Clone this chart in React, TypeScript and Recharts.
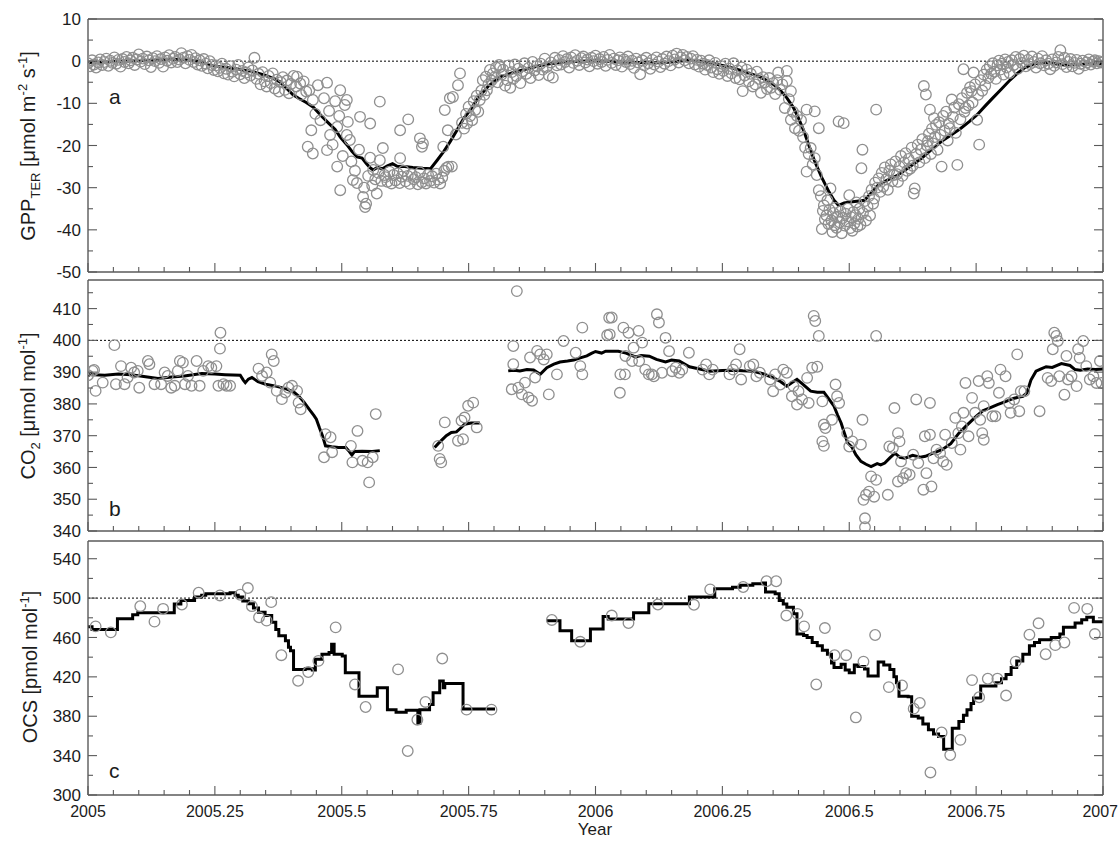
import React from "react";
import { ComposedChart, Scatter, Line, XAxis, YAxis, ReferenceLine } from "recharts";

// Three stacked panels sharing one time axis (decimal year).
const W = 1119;
const H = 842;
const FONT = "'Liberation Sans', Arial, sans-serif";
const AXIS = "#5a5a5a";
const MARK = "#8f8f8f";
const TEXT = "#1c1c1c";

const xMajor = [2005, 2005.25, 2005.5, 2005.75, 2006, 2006.25, 2006.5, 2006.75, 2007];
const xTicks = Array.from({ length: 41 }, (_, i) => Math.round((2005 + i * 0.05) * 100) / 100);

const gppTicks = [-50, -45, -40, -35, -30, -25, -20, -15, -10, -5, 0, 5, 10];
const gppLabels = [-50, -40, -30, -20, -10, 0, 10];
const co2Ticks = [340, 345, 350, 355, 360, 365, 370, 375, 380, 385, 390, 395, 400, 405, 410, 415];
const co2Labels = [340, 350, 360, 370, 380, 390, 400, 410];
const ocsTicks = [300, 320, 340, 360, 380, 400, 420, 440, 460, 480, 500, 520, 540];
const ocsLabels = [300, 340, 380, 420, 460, 500, 540];

// panel a: daily GPP_TER observations and running mean
const gppObs: [number, number][] = [
  [2005.0, -0.5], [2005.004, -1.2], [2005.008, 0.2], [2005.012, -0.8], [2005.016, -1.5], [2005.02, -0.3], [2005.024, 0.4], [2005.028, -0.9],
  [2005.032, -0.2], [2005.036, 0.6], [2005.04, -1.1], [2005.044, 0.1], [2005.048, -0.4], [2005.052, 0.9], [2005.056, -0.6], [2005.06, 0.3],
  [2005.064, -1.3], [2005.068, 0.5], [2005.072, -0.2], [2005.076, 1.0], [2005.08, -0.5], [2005.084, 0.2], [2005.088, 0.8], [2005.092, -0.9],
  [2005.096, 0.4], [2005.1, 1.6], [2005.104, -0.1], [2005.108, 0.6], [2005.112, -0.7], [2005.116, 1.1], [2005.12, 0.2], [2005.124, -1.4],
  [2005.128, 0.7], [2005.132, 0.0], [2005.136, 1.2], [2005.14, -0.4], [2005.144, 0.5], [2005.148, -1.3], [2005.152, 0.9], [2005.156, 0.1],
  [2005.16, 1.4], [2005.164, -0.3], [2005.168, 0.6], [2005.172, 1.0], [2005.176, -0.2], [2005.18, 0.4], [2005.184, 1.9], [2005.188, 0.8],
  [2005.192, -0.5], [2005.196, 1.2], [2005.2, 0.3], [2005.204, 1.5], [2005.208, -0.2], [2005.212, 0.7], [2005.216, -0.8], [2005.22, 0.2],
  [2005.224, -1.1], [2005.228, 0.5], [2005.232, -0.6], [2005.236, -1.7], [2005.24, 0.0], [2005.244, -0.9], [2005.248, -2.1],
  [2005.252, -1.0], [2005.256, -2.4], [2005.26, -1.6], [2005.264, -0.6], [2005.268, -2.9], [2005.272, -1.8], [2005.276, -3.2], [2005.28, -1.2],
  [2005.284, -2.5], [2005.288, -3.6], [2005.292, -2.0], [2005.296, -0.9], [2005.3, -3.1], [2005.304, -2.3], [2005.308, -4.0], [2005.312, -2.7],
  [2005.316, -1.5], [2005.32, -3.4], [2005.324, -2.2], [2005.328, 0.8], [2005.332, -4.2], [2005.336, -3.0], [2005.34, -5.5], [2005.344, -2.6],
  [2005.348, -4.8], [2005.352, -6.0], [2005.356, -3.5], [2005.36, -5.2], [2005.364, -2.9], [2005.368, -6.5], [2005.372, -4.4], [2005.376, -7.2],
  [2005.38, -5.0], [2005.384, -3.8], [2005.388, -6.8], [2005.392, -4.6], [2005.396, -7.6], [2005.4, -5.4],
  [2005.405, -3.5], [2005.41, -6.0], [2005.412, -3.7], [2005.418, -5.3], [2005.42, -8.0], [2005.425, -4.8], [2005.43, -7.2], [2005.433, -20.3],
  [2005.436, -6.9], [2005.44, -16.4], [2005.443, -9.2], [2005.443, -21.9], [2005.448, -12.5], [2005.453, -5.7], [2005.458, -14.0], [2005.465, -8.8],
  [2005.471, -5.1], [2005.471, -21.1], [2005.475, -11.8], [2005.477, -17.5], [2005.482, -19.8], [2005.487, -9.5], [2005.491, -15.6], [2005.491, -25.0],
  [2005.495, -13.0], [2005.497, -6.9], [2005.497, -30.6], [2005.502, -22.5], [2005.506, -10.4], [2005.51, -9.2], [2005.51, -17.5], [2005.512, -14.4],
  [2005.516, -18.7], [2005.519, -23.8], [2005.522, -28.2], [2005.526, -26.0], [2005.53, -28.9], [2005.534, -21.0], [2005.536, -13.2], [2005.542, -32.2],
  [2005.544, -30.0], [2005.546, -34.6], [2005.548, -33.8], [2005.552, -27.2], [2005.556, -14.8], [2005.556, -22.9], [2005.56, -29.5], [2005.562, -25.8],
  [2005.566, -28.0], [2005.569, -31.4], [2005.572, -26.5], [2005.575, -9.6], [2005.575, -23.5], [2005.578, -28.4], [2005.581, -20.6], [2005.584, -27.0],
  [2005.586, -27.5], [2005.59, -28.6], [2005.594, -26.2], [2005.598, -29.0], [2005.602, -27.0], [2005.606, -28.3], [2005.61, -26.6], [2005.614, -28.9],
  [2005.615, -16.4], [2005.615, -23.0], [2005.618, -27.4], [2005.622, -26.0], [2005.626, -28.5], [2005.63, -27.2], [2005.631, -13.8], [2005.634, -29.1],
  [2005.638, -26.8], [2005.642, -28.0], [2005.646, -27.5], [2005.65, -29.2], [2005.654, -18.3], [2005.654, -26.4], [2005.658, -20.3], [2005.658, -28.7],
  [2005.66, -19.5], [2005.662, -27.8], [2005.666, -29.0], [2005.67, -26.9], [2005.674, -28.4], [2005.678, -27.3], [2005.682, -28.8], [2005.686, -26.7],
  [2005.69, -28.1], [2005.694, -29.0], [2005.698, -27.6], [2005.7, -20.3], [2005.702, -26.0], [2005.703, -11.6], [2005.706, -25.3], [2005.709, -16.4],
  [2005.71, -25.0], [2005.713, -8.8], [2005.717, -25.0], [2005.719, -8.5],
  [2005.725, -17.4], [2005.729, -5.7], [2005.733, -2.9], [2005.737, -14.6], [2005.741, -16.0], [2005.745, -12.5], [2005.747, -14.8], [2005.75, -10.8],
  [2005.753, -13.0], [2005.757, -14.0], [2005.76, -9.5], [2005.763, -11.6], [2005.766, -8.2], [2005.769, -12.0], [2005.772, -9.2], [2005.775, -7.0],
  [2005.778, -4.5], [2005.781, -8.0], [2005.784, -3.7], [2005.786, -6.9], [2005.789, -5.5], [2005.792, -2.1], [2005.795, -4.6], [2005.798, -2.9],
  [2005.801, -3.8], [2005.804, -1.5], [2005.807, -5.0], [2005.81, -0.9], [2005.812, -1.4], [2005.815, -3.2], [2005.818, -2.0], [2005.822, -5.8],
  [2005.826, -4.5], [2005.829, -1.0], [2005.832, -6.3], [2005.835, -2.6], [2005.838, -4.2], [2005.841, -0.8], [2005.844, -3.5], [2005.848, -1.8],
  [2005.852, -5.2], [2005.856, -2.4], [2005.86, -0.5], [2005.864, -3.0], [2005.868, -1.6], [2005.872, -4.0], [2005.876, -0.2], [2005.88, -2.2],
  [2005.884, -1.2], [2005.888, -3.3], [2005.892, -0.6], [2005.896, -2.0], [2005.9, 0.6], [2005.904, -1.4], [2005.908, -3.4], [2005.912, -0.3],
  [2005.916, -3.9], [2005.92, 0.8], [2005.924, -1.0],
  [2005.928, 0.3], [2005.932, -0.8], [2005.936, 1.2], [2005.94, -0.2], [2005.944, 0.5], [2005.948, -1.5], [2005.952, 0.9], [2005.956, -0.4],
  [2005.96, 1.4], [2005.964, 0.1], [2005.968, -0.9], [2005.972, 0.7], [2005.976, 1.1], [2005.98, -0.3], [2005.984, 0.4], [2005.988, -1.2],
  [2005.992, 0.8], [2005.996, 0.0], [2006.0, 1.3], [2006.004, -0.6], [2006.008, 0.5], [2006.012, -0.2], [2006.016, 1.0], [2006.02, -1.1],
  [2006.024, 0.3], [2006.028, 1.5], [2006.032, -0.4], [2006.036, 0.6], [2006.04, -0.9], [2006.044, 0.2], [2006.048, 0.9], [2006.052, -1.3],
  [2006.056, 0.4], [2006.06, -0.2], [2006.064, 1.1], [2006.068, -0.7], [2006.072, 0.1], [2006.076, -1.6], [2006.08, 0.6], [2006.084, -0.3],
  [2006.088, -3.1], [2006.092, 0.2], [2006.096, -1.0], [2006.1, 0.8], [2006.104, -0.5], [2006.108, -1.8], [2006.112, 0.3], [2006.116, -0.8],
  [2006.12, 0.9], [2006.124, -0.1], [2006.128, -1.4], [2006.132, 0.5], [2006.136, -0.6], [2006.14, 1.1], [2006.144, 0.0], [2006.148, -1.0],
  [2006.152, 1.3], [2006.156, 0.4], [2006.16, 1.8], [2006.164, -0.3], [2006.168, 0.9], [2006.172, 1.5], [2006.176, 0.2], [2006.18, 1.0],
  [2006.184, -0.5], [2006.188, 0.6], [2006.192, 1.2], [2006.196, -0.8], [2006.2, 0.3], [2006.204, -1.3], [2006.208, 0.1], [2006.212, -0.6],
  [2006.216, -2.0], [2006.22, -0.9], [2006.224, 0.2], [2006.228, -1.5], [2006.232, -2.6], [2006.236, -0.4], [2006.24, -1.9],
  [2006.244, -3.0], [2006.248, -1.2], [2006.252, -2.3], [2006.256, -0.6], [2006.26, -3.5], [2006.264, -1.8], [2006.268, -2.9], [2006.272, -0.5],
  [2006.276, -4.0], [2006.28, -2.2], [2006.284, -4.3], [2006.288, -1.5], [2006.29, -7.1], [2006.294, -3.4], [2006.298, -2.0], [2006.302, -4.8],
  [2006.306, -3.0], [2006.31, -6.0], [2006.315, -5.5], [2006.318, -2.5], [2006.322, -4.2], [2006.326, -7.5], [2006.33, -3.8], [2006.334, -5.0],
  [2006.338, -6.6], [2006.342, -4.0], [2006.346, -6.3], [2006.35, -5.2], [2006.354, -7.8], [2006.358, -4.5], [2006.36, -2.7], [2006.364, -6.8],
  [2006.368, -5.5], [2006.373, -11.1], [2006.377, -2.3], [2006.377, -4.7], [2006.381, -9.0], [2006.385, -7.1], [2006.385, -13.9], [2006.389, -12.0],
  [2006.393, -15.9], [2006.397, -13.0], [2006.401, -16.5], [2006.405, -14.0], [2006.409, -18.0], [2006.413, -20.5], [2006.416, -11.5], [2006.416, -26.2],
  [2006.42, -22.0], [2006.424, -20.6], [2006.428, -24.5], [2006.432, -11.9], [2006.432, -23.0], [2006.436, -27.0], [2006.44, -15.9], [2006.44, -30.6],
  [2006.444, -32.0], [2006.446, -39.8], [2006.448, -35.5], [2006.45, -34.2], [2006.452, -37.5], [2006.455, -36.6], [2006.457, -33.0], [2006.459, -38.6],
  [2006.461, -35.2], [2006.463, -30.2], [2006.465, -37.8], [2006.467, -40.5], [2006.469, -36.0], [2006.471, -38.9], [2006.473, -34.8], [2006.475, -39.5],
  [2006.477, -36.9], [2006.479, -14.3], [2006.481, -38.2], [2006.483, -35.6], [2006.485, -40.8], [2006.487, -37.2], [2006.489, -14.7], [2006.491, -39.0],
  [2006.493, -36.2], [2006.495, -38.0], [2006.497, -35.0], [2006.5, -31.8], [2006.502, -39.6], [2006.504, -37.0], [2006.506, -40.2], [2006.508, -35.8],
  [2006.51, -38.5], [2006.512, -36.5], [2006.514, -33.5], [2006.516, -39.2], [2006.518, -37.4], [2006.52, -35.0], [2006.522, -38.8], [2006.524, -25.4],
  [2006.526, -21.0], [2006.527, -36.0], [2006.53, -33.2], [2006.533, -37.8], [2006.536, -34.5], [2006.539, -32.0], [2006.541, -36.6], [2006.544, -30.5],
  [2006.547, -33.8], [2006.549, -32.6], [2006.551, -28.8], [2006.553, -11.5], [2006.555, -30.0],
  [2006.558, -27.8], [2006.561, -31.0], [2006.564, -26.5], [2006.567, -29.8], [2006.57, -25.2], [2006.573, -28.0], [2006.576, -30.5], [2006.579, -26.0],
  [2006.582, -24.5], [2006.585, -28.5], [2006.588, -27.0], [2006.591, -23.8], [2006.594, -26.8], [2006.596, -28.6], [2006.599, -25.0], [2006.602, -22.5],
  [2006.605, -27.2], [2006.608, -24.0], [2006.611, -21.8], [2006.614, -26.0], [2006.617, -23.2], [2006.62, -25.5], [2006.623, -20.5], [2006.625, -24.8],
  [2006.627, -31.4], [2006.629, -30.2], [2006.632, -22.0], [2006.635, -19.8], [2006.638, -24.0], [2006.641, -21.0], [2006.644, -18.5], [2006.647, -5.9],
  [2006.649, -23.0], [2006.651, -7.9], [2006.653, -20.0], [2006.655, -19.0], [2006.657, -17.2], [2006.659, -11.5], [2006.661, -22.0], [2006.663, -16.0],
  [2006.665, -19.5], [2006.667, -13.5], [2006.669, -18.0], [2006.671, -15.1], [2006.674, -21.0], [2006.677, -14.5], [2006.68, -17.5], [2006.682, -25.0],
  [2006.685, -13.0], [2006.688, -16.5], [2006.691, -12.0], [2006.694, -18.8], [2006.696, -14.8], [2006.698, -15.9], [2006.702, -9.1], [2006.704, -13.2],
  [2006.707, -11.0], [2006.71, -17.0], [2006.713, -24.6], [2006.716, -10.2], [2006.719, -13.8], [2006.722, -8.8], [2006.725, -1.9], [2006.727, -12.0],
  [2006.729, -11.1], [2006.732, -7.5], [2006.735, -10.5], [2006.738, -6.2], [2006.741, -7.1], [2006.743, -9.8], [2006.745, -2.7], [2006.748, -5.5],
  [2006.752, -13.9], [2006.754, -8.0], [2006.756, -19.8], [2006.759, -4.5], [2006.762, -7.0], [2006.765, -3.2], [2006.768, -5.8], [2006.771, -2.0],
  [2006.774, -4.0], [2006.777, -1.2], [2006.78, -3.0], [2006.783, -0.5], [2006.786, -2.5], [2006.789, -4.2], [2006.792, -1.0], [2006.795, 0.1],
  [2006.798, -2.0], [2006.801, -0.6], [2006.804, -3.2], [2006.807, 0.4], [2006.81, -1.5], [2006.813, -0.2],
  [2006.816, -2.8], [2006.82, 0.2], [2006.824, -0.9], [2006.828, 1.0], [2006.832, -1.8], [2006.836, 0.5], [2006.84, -0.4], [2006.844, 1.3],
  [2006.848, -1.2], [2006.852, 0.3], [2006.856, -0.7], [2006.86, 1.1], [2006.864, -0.2], [2006.868, -1.5], [2006.872, 0.6], [2006.876, -0.5],
  [2006.88, 1.2], [2006.884, -1.0], [2006.888, 0.2], [2006.892, -0.6], [2006.896, -1.9], [2006.9, 0.4], [2006.904, -1.1], [2006.908, -0.3],
  [2006.912, 1.0], [2006.916, 2.6], [2006.92, -0.7], [2006.924, 0.8], [2006.928, -1.4], [2006.932, -0.2], [2006.936, 0.5], [2006.94, -1.2],
  [2006.944, -0.4], [2006.948, 0.3], [2006.952, -1.8], [2006.956, -0.6], [2006.96, 0.1], [2006.964, -1.0], [2006.968, -0.3], [2006.972, 0.4],
  [2006.976, -0.8], [2006.98, -0.1], [2006.984, 0.2], [2006.988, -0.5], [2006.992, 0.0], [2006.996, -0.3], [2007.0, -0.2],
];

const gppMean: [number, number][] = [
  [2005.0, -0.3], [2005.03, -0.2], [2005.06, 0.0], [2005.1, 0.1], [2005.14, 0.3], [2005.17, 0.4], [2005.195, 0.4], [2005.215, 0.0],
  [2005.23, -0.5], [2005.245, -1.0], [2005.26, -1.3], [2005.28, -1.6], [2005.3, -2.0], [2005.325, -2.5], [2005.35, -3.4], [2005.365, -4.1],
  [2005.378, -4.9], [2005.39, -6.3], [2005.404, -8.0], [2005.415, -8.8], [2005.43, -9.8], [2005.444, -10.9], [2005.46, -13.0], [2005.475, -14.8],
  [2005.487, -16.2], [2005.497, -18.0], [2005.51, -19.8], [2005.52, -21.4], [2005.53, -22.7], [2005.54, -23.0], [2005.548, -24.2], [2005.556, -25.3],
  [2005.562, -25.8], [2005.57, -25.2], [2005.58, -25.5], [2005.59, -24.8], [2005.6, -24.3], [2005.61, -25.0], [2005.62, -24.9], [2005.64, -25.2],
  [2005.66, -25.4], [2005.675, -25.5], [2005.688, -23.5], [2005.7, -21.6], [2005.713, -19.2], [2005.727, -16.4], [2005.74, -13.6], [2005.753, -11.6],
  [2005.77, -8.5], [2005.79, -5.8], [2005.812, -3.8], [2005.835, -2.8], [2005.862, -1.9], [2005.885, -1.2], [2005.91, -0.6], [2005.94, -0.2],
  [2005.97, 0.0], [2006.0, 0.1], [2006.05, -0.2], [2006.09, -0.3], [2006.127, -0.4], [2006.15, -0.2], [2006.174, 0.2], [2006.19, 0.2],
  [2006.205, 0.0], [2006.23, -0.5], [2006.252, -1.1], [2006.275, -1.8], [2006.3, -2.7], [2006.325, -3.8], [2006.346, -5.1], [2006.362, -6.6],
  [2006.377, -8.7], [2006.39, -11.0], [2006.4, -13.5], [2006.41, -16.4], [2006.422, -20.5], [2006.432, -23.8], [2006.446, -27.6], [2006.46, -31.0],
  [2006.47, -33.0], [2006.479, -34.2], [2006.49, -33.6], [2006.502, -33.4], [2006.515, -33.2], [2006.53, -33.0], [2006.545, -31.0], [2006.557, -29.4],
  [2006.575, -28.2], [2006.596, -27.0], [2006.62, -25.0], [2006.643, -23.0], [2006.662, -21.0], [2006.682, -19.0], [2006.7, -17.6], [2006.72, -15.9],
  [2006.737, -14.3], [2006.752, -12.7], [2006.768, -10.6], [2006.783, -8.7], [2006.8, -6.6], [2006.815, -4.7], [2006.83, -3.0], [2006.846, -1.5],
  [2006.865, -0.6], [2006.885, -0.3], [2006.905, -0.6], [2006.924, -0.9], [2006.95, -0.8], [2006.975, -0.6], [2007.0, -0.6],
];

// panel b: CO2 mixing ratio
const co2Obs: [number, number][] = [
  [2005.0, 389.0], [2005.009, 390.4], [2005.012, 390.7], [2005.015, 384.1], [2005.029, 386.7], [2005.052, 398.5], [2005.055, 386.2], [2005.065, 391.9],
  [2005.072, 386.2], [2005.078, 388.3], [2005.085, 391.4], [2005.091, 389.9], [2005.098, 390.4], [2005.101, 385.1], [2005.118, 393.5], [2005.121, 392.5],
  [2005.131, 386.2], [2005.144, 386.2], [2005.151, 389.9], [2005.157, 388.8], [2005.164, 385.1], [2005.171, 385.7], [2005.177, 390.4], [2005.181, 393.5],
  [2005.187, 393.0], [2005.191, 386.2], [2005.197, 388.8], [2005.204, 385.7], [2005.214, 393.5], [2005.22, 385.7], [2005.227, 390.4], [2005.237, 391.9],
  [2005.243, 391.4], [2005.253, 391.9], [2005.257, 385.7], [2005.26, 397.4], [2005.261, 402.4], [2005.267, 386.2], [2005.273, 385.7], [2005.28, 385.7],
  [2005.336, 391.1], [2005.343, 388.8], [2005.352, 389.9], [2005.359, 386.7], [2005.362, 395.6], [2005.366, 393.5], [2005.372, 384.1], [2005.382, 381.5],
  [2005.389, 383.6], [2005.395, 385.1], [2005.402, 385.7], [2005.412, 384.1], [2005.415, 380.4], [2005.419, 378.3], [2005.465, 363.2], [2005.468, 370.5],
  [2005.478, 369.5], [2005.481, 364.8], [2005.518, 366.8], [2005.521, 361.6], [2005.531, 371.5], [2005.541, 362.1], [2005.551, 361.6], [2005.554, 355.3],
  [2005.561, 363.2], [2005.567, 376.8],
  [2005.69, 366.8], [2005.693, 362.7], [2005.696, 361.6], [2005.703, 374.2], [2005.729, 368.4], [2005.736, 374.7], [2005.739, 368.9], [2005.742, 375.7],
  [2005.749, 379.4], [2005.759, 380.4], [2005.766, 372.6],
  [2005.835, 384.6], [2005.838, 398.2], [2005.838, 392.5], [2005.845, 415.5], [2005.848, 385.1], [2005.855, 383.0], [2005.861, 386.7], [2005.868, 382.0],
  [2005.871, 394.6], [2005.875, 381.0], [2005.881, 388.3], [2005.885, 396.7], [2005.891, 395.6], [2005.898, 394.0], [2005.904, 395.6], [2005.908, 383.0],
  [2005.924, 389.3], [2005.937, 399.8], [2005.961, 396.1], [2005.97, 391.9], [2005.974, 389.3], [2005.974, 404.0], [2006.023, 401.6], [2006.027, 407.1],
  [2006.028, 401.9], [2006.032, 407.2], [2006.048, 383.5], [2006.049, 389.3], [2006.055, 404.0], [2006.058, 389.3], [2006.059, 395.1], [2006.065, 402.4],
  [2006.072, 393.5], [2006.075, 397.7], [2006.085, 403.0], [2006.086, 393.5], [2006.092, 399.3], [2006.098, 390.8], [2006.105, 389.3], [2006.111, 389.3],
  [2006.115, 388.7], [2006.121, 408.2], [2006.125, 405.6], [2006.131, 389.8], [2006.138, 400.8], [2006.145, 396.6], [2006.151, 390.3], [2006.158, 391.4],
  [2006.165, 389.8], [2006.171, 390.8], [2006.184, 396.1], [2006.211, 390.8], [2006.218, 392.4], [2006.224, 389.3], [2006.231, 390.8], [2006.264, 389.3],
  [2006.271, 390.8], [2006.277, 392.4], [2006.284, 397.2], [2006.287, 387.7], [2006.304, 391.9], [2006.311, 392.4], [2006.317, 388.7], [2006.324, 389.8],
  [2006.344, 387.7], [2006.35, 384.0], [2006.354, 389.3], [2006.364, 386.1], [2006.37, 390.8], [2006.377, 389.8], [2006.387, 382.4], [2006.39, 385.6],
  [2006.397, 379.8], [2006.4, 384.0], [2006.407, 381.4], [2006.417, 388.2], [2006.42, 380.3], [2006.427, 391.4], [2006.43, 407.7], [2006.433, 406.1],
  [2006.437, 391.7], [2006.44, 401.4], [2006.447, 380.8], [2006.45, 373.5], [2006.453, 372.4], [2006.447, 368.2], [2006.45, 366.8], [2006.466, 375.0],
  [2006.473, 386.1], [2006.476, 382.4], [2006.48, 380.3], [2006.496, 370.8], [2006.5, 366.6], [2006.506, 368.2], [2006.523, 367.2], [2006.526, 375.0],
  [2006.528, 349.8], [2006.531, 344.0], [2006.531, 341.2], [2006.533, 351.4], [2006.539, 352.4], [2006.543, 357.2], [2006.549, 350.8], [2006.553, 356.1],
  [2006.553, 401.4], [2006.576, 351.4], [2006.579, 366.6], [2006.586, 366.1], [2006.589, 378.7], [2006.596, 370.8], [2006.599, 368.2], [2006.596, 355.6],
  [2006.602, 361.9], [2006.606, 356.6], [2006.612, 358.2], [2006.619, 357.7], [2006.626, 364.0], [2006.632, 381.4], [2006.636, 361.4], [2006.646, 353.0],
  [2006.649, 369.8], [2006.652, 358.2], [2006.659, 370.3], [2006.659, 380.3], [2006.662, 354.0], [2006.666, 362.9], [2006.672, 365.6], [2006.679, 364.5],
  [2006.685, 361.9], [2006.689, 370.3], [2006.692, 360.8], [2006.702, 367.7], [2006.709, 375.6], [2006.715, 370.8], [2006.719, 365.6], [2006.722, 372.9],
  [2006.725, 377.2], [2006.729, 386.6], [2006.735, 369.8], [2006.742, 381.9], [2006.748, 377.2], [2006.755, 387.2], [2006.758, 375.0], [2006.762, 370.8],
  [2006.765, 368.7], [2006.765, 379.3], [2006.772, 388.7], [2006.775, 386.6], [2006.782, 376.1], [2006.788, 376.1], [2006.795, 383.5], [2006.798, 390.8],
  [2006.808, 388.7], [2006.815, 380.3], [2006.818, 377.2], [2006.825, 381.4], [2006.831, 395.6], [2006.835, 377.7], [2006.838, 384.0], [2006.845, 384.0],
  [2006.875, 377.7], [2006.891, 388.2], [2006.898, 387.2], [2006.901, 397.2], [2006.904, 402.4], [2006.908, 401.4], [2006.911, 399.8], [2006.914, 388.7],
  [2006.924, 382.9], [2006.928, 395.1], [2006.931, 387.7], [2006.938, 388.7], [2006.948, 385.6], [2006.951, 397.2], [2006.954, 394.5], [2006.961, 399.8],
  [2006.967, 391.9], [2006.974, 387.7], [2006.981, 388.7], [2006.987, 386.6], [2006.994, 393.5], [2006.997, 386.6],
];

const co2MeanA: [number, number][] = [
  [2005.0, 388.8], [2005.006, 389.6], [2005.012, 389.2], [2005.033, 389.0], [2005.06, 389.4], [2005.085, 389.2], [2005.11, 388.6], [2005.138, 388.0],
  [2005.165, 388.5], [2005.19, 388.8], [2005.224, 389.6], [2005.25, 389.4], [2005.27, 389.2], [2005.3, 389.0], [2005.306, 387.5], [2005.31, 386.7],
  [2005.316, 387.8], [2005.323, 388.3], [2005.335, 387.0], [2005.35, 386.2], [2005.37, 385.6], [2005.389, 384.8], [2005.405, 383.8], [2005.415, 382.5],
  [2005.426, 380.5], [2005.436, 378.3], [2005.445, 376.4], [2005.45, 375.2], [2005.456, 372.5], [2005.462, 370.0], [2005.468, 366.8], [2005.48, 366.5],
  [2005.494, 366.3], [2005.508, 366.3], [2005.515, 365.0], [2005.52, 363.9], [2005.525, 365.0], [2005.54, 365.1], [2005.56, 365.0], [2005.575, 365.3],
];
const co2MeanB: [number, number][] = [
  [2005.683, 366.3], [2005.69, 367.5], [2005.706, 370.0], [2005.716, 371.0], [2005.726, 371.2], [2005.735, 372.5], [2005.742, 373.6], [2005.755, 374.0],
  [2005.772, 374.0],
];
const co2MeanC: [number, number][] = [
  [2005.828, 390.4], [2005.84, 390.6], [2005.851, 390.4], [2005.865, 390.8], [2005.878, 390.7], [2005.891, 389.3], [2005.904, 391.4], [2005.918, 392.5],
  [2005.93, 393.2], [2005.945, 393.5], [2005.957, 393.8], [2005.97, 394.5], [2005.983, 395.1], [2005.992, 395.9], [2006.0, 396.5], [2006.012, 396.0],
  [2006.02, 396.6], [2006.045, 396.6], [2006.06, 396.0], [2006.079, 394.8], [2006.09, 395.2], [2006.106, 395.0], [2006.12, 394.0], [2006.138, 393.2],
  [2006.15, 393.8], [2006.165, 393.5], [2006.185, 391.7], [2006.205, 391.0], [2006.225, 390.3], [2006.25, 390.5], [2006.271, 390.6], [2006.29, 390.4],
  [2006.311, 390.3], [2006.33, 389.5], [2006.351, 388.2], [2006.365, 387.0], [2006.377, 385.6], [2006.388, 386.8], [2006.397, 387.7], [2006.41, 386.0],
  [2006.424, 384.0], [2006.437, 383.7], [2006.45, 383.7], [2006.46, 381.5], [2006.47, 379.3], [2006.477, 376.5], [2006.484, 374.0], [2006.49, 371.0],
  [2006.497, 367.7], [2006.505, 366.5], [2006.513, 364.0], [2006.523, 361.9], [2006.533, 361.0], [2006.543, 360.3], [2006.555, 361.2], [2006.562, 360.8],
  [2006.57, 361.4], [2006.58, 363.0], [2006.59, 364.5], [2006.6, 363.2], [2006.61, 362.9], [2006.625, 363.8], [2006.64, 363.2], [2006.65, 363.5],
  [2006.665, 364.5], [2006.683, 365.6], [2006.7, 367.5], [2006.716, 370.8], [2006.733, 373.5], [2006.75, 376.1], [2006.763, 377.8], [2006.776, 378.7],
  [2006.792, 379.8], [2006.809, 380.8], [2006.825, 381.8], [2006.842, 382.4], [2006.85, 383.5], [2006.858, 387.5], [2006.868, 390.3], [2006.878, 391.0],
  [2006.888, 391.7], [2006.9, 391.5], [2006.918, 392.7], [2006.935, 392.1], [2006.945, 390.8], [2006.955, 390.6], [2006.97, 391.0], [2006.985, 390.8],
  [2007.0, 391.0],
];

// panel c: OCS mixing ratio (flask samples) and running median
const ocsObs: [number, number][] = [
  [2005.015, 471.3], [2005.045, 465.2], [2005.103, 491.8], [2005.131, 476.1], [2005.148, 489.1], [2005.185, 493.5], [2005.218, 505.5], [2005.26, 502.7],
  [2005.3, 503.4], [2005.315, 510.2], [2005.323, 491.8], [2005.337, 480.5], [2005.352, 477.1], [2005.361, 495.9], [2005.381, 442.0], [2005.414, 416.0],
  [2005.434, 424.9], [2005.454, 436.2], [2005.488, 470.3], [2005.526, 412.3], [2005.547, 389.4], [2005.611, 427.6], [2005.63, 344.7], [2005.649, 376.5],
  [2005.665, 394.5], [2005.698, 438.6], [2005.746, 386.7], [2005.795, 386.7],
  [2005.914, 477.8], [2005.97, 455.6], [2006.032, 482.3], [2006.065, 474.7], [2006.123, 493.5], [2006.194, 493.2], [2006.226, 508.9], [2006.291, 511.3],
  [2006.337, 517.1], [2006.356, 517.1], [2006.376, 482.3], [2006.398, 484.0], [2006.411, 471.3], [2006.435, 412.3], [2006.452, 469.6], [2006.471, 442.0],
  [2006.494, 442.0], [2006.513, 378.8], [2006.528, 435.5], [2006.551, 462.5], [2006.578, 409.6], [2006.604, 411.3], [2006.627, 387.7], [2006.639, 393.5],
  [2006.66, 322.9], [2006.682, 363.5], [2006.699, 340.6], [2006.719, 356.0], [2006.742, 416.7], [2006.756, 399.3], [2006.773, 418.1], [2006.792, 418.1],
  [2006.809, 401.0], [2006.828, 435.5], [2006.855, 462.8], [2006.873, 474.4], [2006.887, 443.0], [2006.906, 452.2], [2006.924, 454.9], [2006.943, 490.1],
  [2006.969, 489.1], [2006.984, 463.5],
];

const ocsMeanA: [number, number][] = [
  [2005.0, 471], [2005.008, 468], [2005.058, 479], [2005.088, 483], [2005.098, 485], [2005.17, 494], [2005.183, 497.6], [2005.21, 501],
  [2005.224, 503], [2005.232, 504.4], [2005.28, 505.5], [2005.29, 503], [2005.296, 501], [2005.305, 497], [2005.316, 494.2], [2005.326, 490],
  [2005.336, 485.7], [2005.349, 482.3], [2005.362, 475.4], [2005.37, 468], [2005.376, 461.8], [2005.389, 456.7], [2005.395, 450], [2005.399, 446.4],
  [2005.405, 427.6], [2005.428, 428.3], [2005.442, 427], [2005.448, 437.9], [2005.461, 443], [2005.475, 444.7], [2005.48, 453.2], [2005.485, 443],
  [2005.501, 441.3], [2005.507, 424.2], [2005.534, 400.3], [2005.57, 408.9], [2005.59, 386.7], [2005.607, 384], [2005.627, 386], [2005.65, 373],
  [2005.654, 386.7], [2005.673, 391.8], [2005.68, 403.8], [2005.693, 415.7], [2005.7, 408.9], [2005.703, 413.3], [2005.739, 387.4], [2005.802, 387.4],
];
const ocsMeanB: [number, number][] = [
  [2005.904, 477.1], [2005.93, 466.9], [2005.953, 456.7], [2005.99, 468.6], [2006.015, 481.2], [2006.025, 478.8], [2006.075, 485], [2006.105, 494.2],
  [2006.185, 501], [2006.235, 509.6], [2006.27, 511], [2006.285, 513], [2006.31, 514.5], [2006.331, 515.4], [2006.335, 506.1], [2006.354, 504.4],
  [2006.362, 497.6], [2006.37, 494], [2006.377, 490.8], [2006.39, 484], [2006.397, 463.5], [2006.41, 462], [2006.417, 460], [2006.427, 455],
  [2006.437, 451.5], [2006.447, 447], [2006.457, 443], [2006.465, 434], [2006.47, 429.4], [2006.484, 432.8], [2006.492, 427], [2006.5, 424.2],
  [2006.51, 432], [2006.517, 430.4], [2006.53, 428], [2006.537, 420.8], [2006.557, 435.2], [2006.568, 432], [2006.58, 427.6], [2006.588, 420],
  [2006.593, 414], [2006.598, 400.3], [2006.616, 399.7], [2006.623, 379.9], [2006.636, 378.2], [2006.645, 372], [2006.656, 366.2], [2006.666, 362],
  [2006.676, 359.4], [2006.686, 346.4], [2006.703, 367.9], [2006.716, 374.7], [2006.725, 381], [2006.732, 386.7], [2006.74, 393], [2006.745, 398.6],
  [2006.759, 410.6], [2006.789, 414], [2006.8, 418], [2006.809, 422.5], [2006.819, 429.4], [2006.83, 436], [2006.842, 443], [2006.855, 451.5],
  [2006.865, 455], [2006.875, 457.7], [2006.898, 460], [2006.915, 463.5], [2006.922, 470.3], [2006.945, 474.7], [2006.958, 478], [2006.968, 480.5],
  [2006.981, 476.1], [2007.0, 476.1],
];

const pts = (a: [number, number][]) => a.map(([x, y]) => ({ x, y }));
const near = (list: number[], v: number) => list.some((m) => Math.abs(m - v) < 1e-6);

const axisLine = { stroke: AXIS, strokeWidth: 1.4 };

const ring = (p: any) => (
  <circle cx={p.cx} cy={p.cy} r={5.3} fill="none" stroke={MARK} strokeWidth={1.3} />
);

function makeXTick(side: "top" | "bottom", labels: boolean) {
  return (p: any) => {
    const v = p.payload.value;
    const major = near(xMajor, v);
    const len = major ? 9 : 5;
    const dir = side === "bottom" ? -1 : 1;
    // the last label would run off the right edge, so it hangs left of its tick
    const last = v === 2007;
    return (
      <g>
        <line x1={p.x} x2={p.x} y1={p.y} y2={p.y + dir * len} stroke={AXIS} strokeWidth={1.1} />
        {labels && major && (
          <text
            x={last ? p.x + 15 : p.x} y={p.y + 22} textAnchor={last ? "end" : "middle"}
            fontSize={16} fill={TEXT} fontFamily={FONT}
          >
            {v}
          </text>
        )}
      </g>
    );
  };
}

function makeYTick(side: "left" | "right", labelled: number[]) {
  return (p: any) => {
    const v = p.payload.value;
    const major = near(labelled, v);
    const len = major ? 9 : 5;
    const dir = side === "left" ? 1 : -1;
    return (
      <g>
        <line x1={p.x} x2={p.x + dir * len} y1={p.y} y2={p.y} stroke={AXIS} strokeWidth={1.1} />
        {side === "left" && major && (
          <text x={p.x - 7} y={p.y} dy="0.36em" textAnchor="end" fontSize={17} fill={TEXT} fontFamily={FONT}>
            {v}
          </text>
        )}
      </g>
    );
  };
}

type PanelProps = {
  top: number;
  bottom: number;
  domain: [number, number];
  ticks: number[];
  labels: number[];
  obs: [number, number][];
  means: [number, number][][];
  refY: number;
  step?: boolean;
  xLabels?: boolean;
};

// axes get a 1px band each (Recharts skips axes with zero size)
function Panel({ top, bottom, domain, ticks, labels, obs, means, refY, step, xLabels }: PanelProps) {
  return (
    <div style={{ position: "absolute", left: 0, top: 0 }}>
      <ComposedChart width={W} height={H} margin={{ top: top - 1, right: 15, bottom: H - bottom - 1, left: 87 }}>
        <XAxis
          xAxisId="b" dataKey="x" type="number" domain={[2005, 2007]} ticks={xTicks} interval={0}
          tick={makeXTick("bottom", !!xLabels)} tickLine={false} tickSize={0} tickMargin={0}
          height={1} axisLine={axisLine} allowDataOverflow
        />
        <XAxis
          xAxisId="t" orientation="top" type="number" domain={[2005, 2007]} ticks={xTicks} interval={0}
          tick={makeXTick("top", false)} tickLine={false} tickSize={0} tickMargin={0}
          height={1} axisLine={axisLine} allowDataOverflow
        />
        <YAxis
          yAxisId="l" dataKey="y" type="number" domain={domain} ticks={ticks} interval={0}
          tick={makeYTick("left", labels)} tickLine={false} tickSize={0} tickMargin={0}
          width={1} axisLine={axisLine} allowDataOverflow
        />
        <YAxis
          yAxisId="r" orientation="right" type="number" domain={domain} ticks={ticks} interval={0}
          tick={makeYTick("right", labels)} tickLine={false} tickSize={0} tickMargin={0}
          width={1} axisLine={axisLine} allowDataOverflow
        />
        <ReferenceLine xAxisId="b" yAxisId="l" y={refY} stroke="#000" strokeWidth={1} strokeDasharray="2 2" />
        <Scatter xAxisId="b" yAxisId="l" data={pts(obs)} dataKey="y" shape={ring} isAnimationActive={false} />
        {means.map((m, i) => (
          <Line
            key={i} xAxisId="b" yAxisId="l" data={pts(m)} dataKey="y"
            type={step ? "stepAfter" : "linear"} stroke="#000" strokeWidth={3}
            dot={false} activeDot={false} isAnimationActive={false}
          />
        ))}
      </ComposedChart>
    </div>
  );
}

const titleStyle: React.CSSProperties = {
  position: "absolute",
  left: 29,
  transform: "translate(-50%, -50%) rotate(-90deg)",
  whiteSpace: "nowrap",
  fontFamily: FONT,
  fontSize: 20,
  color: TEXT,
  lineHeight: 1,
};
const letterStyle: React.CSSProperties = {
  position: "absolute",
  left: 109,
  fontFamily: FONT,
  fontSize: 21,
  color: TEXT,
  lineHeight: 1,
};
const supStyle: React.CSSProperties = { fontSize: 13, verticalAlign: 8 };
const subStyle: React.CSSProperties = { fontSize: 13, verticalAlign: -5 };

export default function App() {
  return (
    <div style={{ position: "absolute", left: 0, top: 0, width: W, height: H, background: "#fff", overflow: "hidden" }}>
      <Panel top={19} bottom={272} domain={[-50, 10]} ticks={gppTicks} labels={gppLabels} obs={gppObs} means={[gppMean]} refY={0} />
      <Panel top={280} bottom={531} domain={[340, 419]} ticks={co2Ticks} labels={co2Labels} obs={co2Obs} means={[co2MeanA, co2MeanB, co2MeanC]} refY={400} />
      <Panel top={541} bottom={795} domain={[300, 558]} ticks={ocsTicks} labels={ocsLabels} obs={ocsObs} means={[ocsMeanA, ocsMeanB]} refY={500} step xLabels />

      <div style={{ ...titleStyle, top: 146 }}>
        GPP<span style={subStyle}>TER</span> [μmol m<span style={supStyle}>-2</span> s<span style={supStyle}>-1</span>]
      </div>
      <div style={{ ...titleStyle, top: 406 }}>
        CO<span style={subStyle}>2</span> [μmol mol<span style={supStyle}>-1</span>]
      </div>
      <div style={{ ...titleStyle, top: 667 }}>
        OCS [pmol mol<span style={supStyle}>-1</span>]
      </div>

      <div style={{ ...letterStyle, top: 86 }}>a</div>
      <div style={{ ...letterStyle, top: 498 }}>b</div>
      <div style={{ ...letterStyle, top: 760 }}>c</div>

      <div style={{ position: "absolute", left: 595, top: 821, transform: "translateX(-50%)", fontFamily: FONT, fontSize: 17, color: TEXT, lineHeight: 1 }}>
        Year
      </div>
    </div>
  );
}
